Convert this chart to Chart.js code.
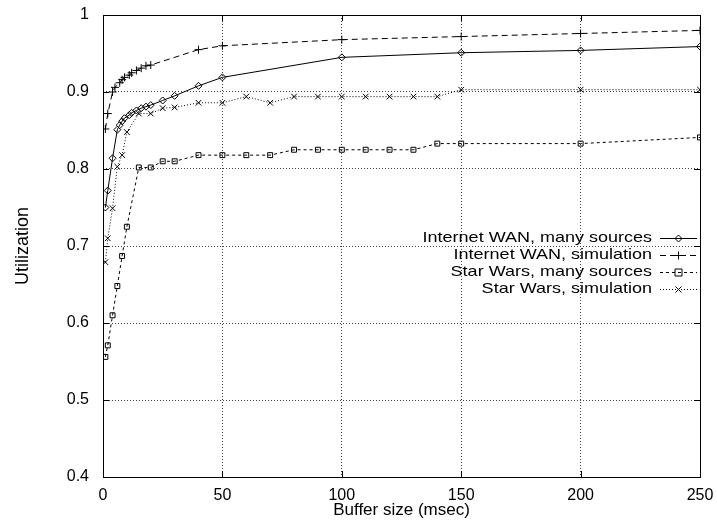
<!DOCTYPE html>
<html>
<head>
<meta charset="utf-8">
<script src="https://cdn.jsdelivr.net/npm/chart.js@4/dist/chart.umd.min.js"></script>
<style>
html,body{margin:0;padding:0;background:#fff;}
#wrap{width:717px;height:523px;position:relative;}
</style>
</head>
<body>
<div id="wrap"><canvas id="c" width="717" height="523"></canvas></div>
<script>
// ---- data ----
const labels = ["Internet WAN, many sources","Internet WAN, simulation","Star Wars, many sources","Star Wars, simulation"];
const xTicks = [0,50,100,150,200,250];
const yTicks = [0.4,0.5,0.6,0.7,0.8,0.9,1];

const xWanMany = [1,2,4,6,7,8,9,11,12,14,16,18,20,25,30,40,50,100,150,200,250];
const yWanMany = [0.75,0.772,0.814,0.851,0.857,0.862,0.866,0.87,0.873,0.876,0.879,0.881,0.883,0.889,0.895,0.908,0.919,0.945,0.951,0.954,0.959];

const xWanSim = [1,2,4,5,7,8,9,11,12,14,16,18,20,40,50,100,150,200,250];
const yWanSim = [0.852,0.872,0.9,0.906,0.912,0.916,0.919,0.922,0.925,0.928,0.931,0.934,0.935,0.955,0.96,0.968,0.972,0.976,0.98];

const xSwMany = [1,2,4,6,8,10,15,20,25,30,40,50,60,70,80,90,100,110,120,130,140,150,200,250];
const ySwMany = [0.556,0.571,0.61,0.648,0.687,0.725,0.802,0.802,0.81,0.81,0.818,0.818,0.818,0.818,0.825,0.825,0.825,0.825,0.825,0.825,0.833,0.833,0.833,0.841];

const xSwSim = [1,2,4,6,8,10,15,20,25,30,40,50,60,70,80,90,100,110,120,130,140,150,200,250];
const ySwSim = [0.679,0.71,0.749,0.803,0.818,0.848,0.872,0.872,0.879,0.88,0.886,0.886,0.894,0.886,0.894,0.894,0.894,0.894,0.894,0.894,0.894,0.903,0.903,0.903];

function pts(xs, ys){ return xs.map((x,i)=>({x:x,y:ys[i]})); }

const FONT = '"Liberation Sans", Arial, Helvetica, sans-serif';
const styles = [
  {dash:[], pt:'rectRot', r:3.5},
  {dash:[6,4], pt:'cross', r:4},
  {dash:[3,3], pt:'rect', r:3.5},
  {dash:[1,2], pt:'crossRot', r:4}
];
const series = [pts(xWanMany,yWanMany), pts(xWanSim,yWanSim), pts(xSwMany,ySwMany), pts(xSwSim,ySwSim)];

const datasets = series.map((d,i)=>({
  label: labels[i],
  data: d,
  borderColor:'#000',
  borderWidth:1,
  borderDash: styles[i].dash,
  pointStyle: styles[i].pt,
  pointRadius: styles[i].r,
  pointBorderColor:'#000',
  pointBackgroundColor:'rgba(0,0,0,0)',
  pointBorderWidth:1,
  tension:0,
  fill:false
}));

function drawMarker(ctx, style, x, y, r){
  ctx.save();
  ctx.setLineDash([]);
  ctx.strokeStyle='#000';
  ctx.lineWidth=1;
  ctx.beginPath();
  if(style==='rectRot'){
    ctx.moveTo(x, y-r); ctx.lineTo(x+r, y); ctx.lineTo(x, y+r); ctx.lineTo(x-r, y); ctx.closePath();
  } else if(style==='cross'){
    ctx.moveTo(x-r,y); ctx.lineTo(x+r,y); ctx.moveTo(x,y-r); ctx.lineTo(x,y+r);
  } else if(style==='rect'){
    ctx.rect(x-r, y-r, 2*r, 2*r);
  } else {
    const a=r*0.75;
    ctx.moveTo(x-a,y-a); ctx.lineTo(x+a,y+a); ctx.moveTo(x-a,y+a); ctx.lineTo(x+a,y-a);
  }
  ctx.stroke();
  ctx.restore();
}

const framePlugin = {
  id:'frame',
  afterDraw(chart){
    const ctx = chart.ctx, a = chart.chartArea;
    const xs = chart.scales.x, ys = chart.scales.y;
    ctx.save();
    ctx.strokeStyle='#000'; ctx.lineWidth=1; ctx.setLineDash([]);
    ctx.strokeRect(Math.round(a.left)+0.5, Math.round(a.top)+0.5, Math.round(a.right-a.left), Math.round(a.bottom-a.top));
    // inward ticks
    ctx.beginPath();
    xTicks.forEach(v=>{
      const px = Math.round(xs.getPixelForValue(v))+0.5;
      ctx.moveTo(px, a.bottom); ctx.lineTo(px, a.bottom-6);
      ctx.moveTo(px, a.top); ctx.lineTo(px, a.top+6);
    });
    yTicks.forEach(v=>{
      const py = Math.round(ys.getPixelForValue(v))+0.5;
      ctx.moveTo(a.left, py); ctx.lineTo(a.left+6, py);
      ctx.moveTo(a.right, py); ctx.lineTo(a.right-6, py);
    });
    ctx.stroke();
    // legend
    const textRight = 652, lx0 = 660, lx1 = 697, rowY0 = 238, rowH = 17;
    labels.forEach((lab,i)=>{
      const y = rowY0 + i*rowH;
      ctx.save();
      ctx.font = '15px ' + FONT;
      ctx.fillStyle='#000';
      ctx.textAlign='right';
      ctx.textBaseline='middle';
      ctx.translate(textRight, y);
      ctx.scale(1.2, 1);
      ctx.fillText(lab, 0, 0);
      ctx.restore();
      ctx.beginPath();
      ctx.setLineDash(styles[i].dash);
      ctx.moveTo(lx0, y+0.5); ctx.lineTo(lx1, y+0.5);
      ctx.stroke();
      ctx.setLineDash([]);
      drawMarker(ctx, styles[i].pt, (lx0+lx1)/2, y+0.5, styles[i].r);
    });
    ctx.restore();
  }
};

new Chart(document.getElementById('c'), {
  type:'line',
  data:{datasets:datasets},
  options:{
    responsive:false,
    animation:false,
    devicePixelRatio:1,
    layout:{padding:{top:15,right:17,left:0,bottom:2}},
    plugins:{legend:{display:false}, tooltip:{enabled:false}},
    elements:{line:{borderCapStyle:'butt'}},
    scales:{
      x:{
        type:'linear', min:0, max:250,
        afterBuildTicks(s){ s.ticks = xTicks.map(v=>({value:v})); },
        afterFit(s){ s.height = 44; s.paddingLeft = 0; s.paddingRight = 0; },
        grid:{color:'#444', lineWidth:1, drawTicks:false, tickLength:0},
        border:{display:false, dash:[1,2]},
        ticks:{color:'#000', font:{size:16, family:FONT}, padding:9, maxRotation:0},
        title:{display:true, text:'Buffer size (msec)', color:'#000', font:{size:17, family:FONT}, padding:{top:0,bottom:0}}
      },
      y:{
        type:'linear', min:0.4, max:1,
        afterBuildTicks(s){ s.ticks = yTicks.map(v=>({value:v})); },
        afterFit(s){ s.width = 103; s.paddingTop = 0; s.paddingBottom = 0; },
        grid:{color:'#444', lineWidth:1, drawTicks:false, tickLength:0},
        border:{display:false, dash:[1,2]},
        ticks:{color:'#000', font:{size:16, family:FONT}, padding:14,
          callback:(v)=> v===1 ? '1' : v.toFixed(1)},
        title:{display:true, text:'Utilization', color:'#000', font:{size:18, family:FONT}, padding:{top:12,bottom:0}}
      }
    }
  },
  plugins:[framePlugin]
});
</script>
</body>
</html>
